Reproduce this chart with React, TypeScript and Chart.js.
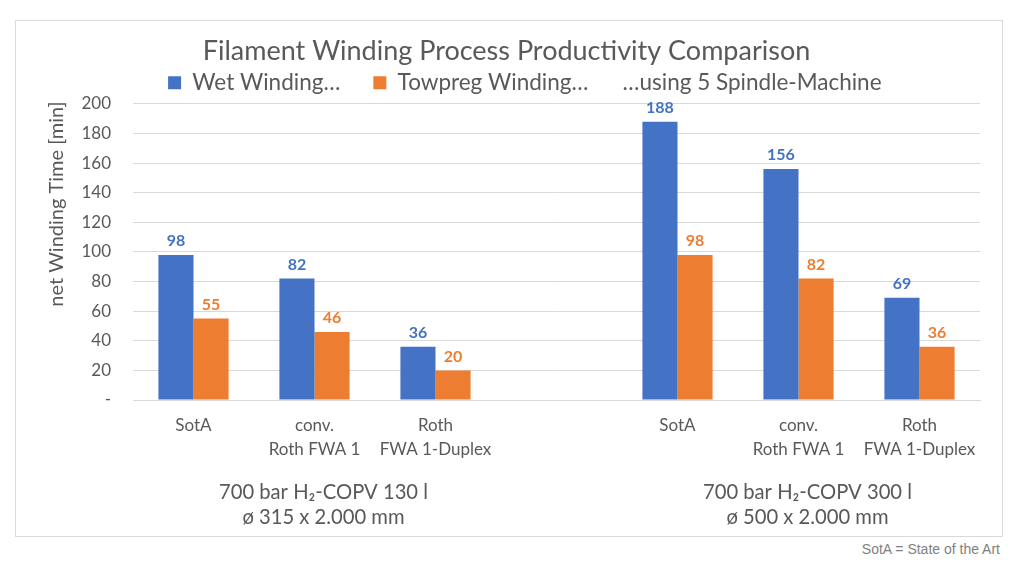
import React, { useEffect, useRef } from "react";
import { Chart, registerables } from "chart.js";

Chart.register(...registerables);

const categories: string[][] = [
  ["SotA"],
  ["conv.", "Roth FWA 1"],
  ["Roth", "FWA 1-Duplex"],
  [""],
  ["SotA"],
  ["conv.", "Roth FWA 1"],
  ["Roth", "FWA 1-Duplex"],
];
const wetWinding: (number | null)[] = [98, 82, 36, null, 188, 156, 69];
const towpregWinding: (number | null)[] = [55, 46, 20, null, 98, 82, 36];
const seriesNames = ["Wet Winding…", "Towpreg Winding…", "…using 5 Spindle-Machine"];
const groupLabels: { index: number; lines: string[] }[] = [
  { index: 1, lines: ["700 bar H₂-COPV 130 l", "ø 315 x 2.000 mm"] },
  { index: 5, lines: ["700 bar H₂-COPV 300 l", "ø 500 x 2.000 mm"] },
];
const titleText = "Filament Winding Process Productivity Comparison";
const yAxisTitle = "net Winding Time [min]";
const footnote = "SotA = State of the Art";

const BLUE = "#4472C4";
const ORANGE = "#ED7D31";
const TEXT = "#595959";
const GRID = "#d9d9d9";
const FONT = "Lato";
const NBSP = "\u00A0";
// trailing spacing per legend item (visual gap only)
const legendTrail = [4, 0, 11];

const valueLabels = {
  id: "valueLabels",
  afterDatasetsDraw(chart: any) {
    const ctx = chart.ctx;
    ctx.save();
    ctx.font = `bold 16px ${FONT}`;
    ctx.textAlign = "center";
    ctx.textBaseline = "bottom";
    [0, 1].forEach((di) => {
      const ds = chart.data.datasets[di];
      const meta = chart.getDatasetMeta(di);
      meta.data.forEach((bar: any, i: number) => {
        const v = ds.data[i];
        if (v == null) return;
        ctx.fillStyle = ds.backgroundColor;
        ctx.fillText(String(v), bar.x, bar.y - 6);
      });
    });
    ctx.restore();
  },
};

const extraText = {
  id: "extraText",
  afterDraw(chart: any) {
    const ctx = chart.ctx;
    const xs = chart.scales.x;
    const area = chart.chartArea;
    ctx.save();
    ctx.fillStyle = TEXT;
    ctx.textAlign = "center";
    ctx.textBaseline = "middle";
    ctx.font = `20.2px ${FONT}`;
    groupLabels.forEach((g) => {
      const x = xs.getPixelForValue(g.index) + 9;
      g.lines.forEach((line, li) => {
        ctx.fillText(line, x, area.bottom + 92 + li * 25);
      });
    });
    ctx.font = `20px ${FONT}`;
    ctx.translate(41, 183);
    ctx.rotate(-Math.PI / 2);
    ctx.fillText(yAxisTitle, 0, 0);
    ctx.restore();
  },
};

export default function App() {
  const ref = useRef<HTMLCanvasElement | null>(null);
  useEffect(() => {
    if (!ref.current) return;
    const chart = new Chart(ref.current, {
      type: "bar",
      data: {
        labels: categories,
        datasets: [
          { label: seriesNames[0], data: wetWinding, backgroundColor: BLUE, borderWidth: 0 },
          { label: seriesNames[1], data: towpregWinding, backgroundColor: ORANGE, borderWidth: 0 },
          {
            type: "line" as any,
            label: seriesNames[2],
            data: [],
            backgroundColor: "rgba(0,0,0,0)",
            borderColor: "rgba(0,0,0,0)",
            borderWidth: 0,
          } as any,
        ],
      },
      options: {
        animation: false,
        responsive: true,
        maintainAspectRatio: false,
        layout: { padding: { left: 17, right: 22, top: 0, bottom: 0 } },
        datasets: { bar: { barPercentage: 1, categoryPercentage: 0.58 } } as any,
        plugins: {
          title: {
            display: true,
            text: titleText,
            color: TEXT,
            font: { family: FONT, size: 27, weight: "normal" as any },
            padding: { top: 14, bottom: -6 },
          },
          legend: {
            display: true,
            fullSize: false,
            labels: {
              color: TEXT,
              font: { family: FONT, size: 22.5 },
              boxWidth: 13,
              boxHeight: 13,
              padding: 10,
              generateLabels(c: any) {
                const items = Chart.defaults.plugins.legend.labels.generateLabels(c);
                return items.map((it: any, i: number) => ({
                  ...it,
                  text: it.text + NBSP.repeat(legendTrail[i] || 0),
                }));
              },
            },
          },
          tooltip: { enabled: false },
        },
        scales: {
          x: {
            grid: { display: false },
            border: { display: true, color: GRID },
            ticks: {
              color: TEXT,
              font: { family: FONT, size: 17, lineHeight: 1.4 },
              padding: 6,
              maxRotation: 0,
              autoSkip: false,
            },
            afterFit(scale: any) {
              scale.height = 136;
            },
          },
          y: {
            min: 0,
            max: 200,
            grid: { color: GRID, drawTicks: false },
            border: { display: false },
            ticks: {
              stepSize: 20,
              color: TEXT,
              font: { family: FONT, size: 17 },
              padding: 22,
              callback: (v: any) => (Number(v) === 0 ? "-" : String(v)),
            },
            afterFit(scale: any) {
              scale.width = 100;
            },
          },
        },
      },
      plugins: [valueLabels, extraText],
    });
    return () => chart.destroy();
  }, []);

  return (
    <div style={{ position: "relative", width: 1008, height: 561 }}>
      <div
        style={{
          position: "absolute",
          left: 7,
          top: 12,
          width: 988,
          height: 517,
          border: "1px solid #d9d9d9",
          boxSizing: "border-box",
        }}
      >
        <canvas ref={ref} />
      </div>
      <div
        style={{
          position: "absolute",
          right: 16,
          top: 533,
          font: '14px "Liberation Sans", Arial, sans-serif',
          color: "#7f7f7f",
          whiteSpace: "nowrap",
        }}
      >
        {footnote}
      </div>
    </div>
  );
}
